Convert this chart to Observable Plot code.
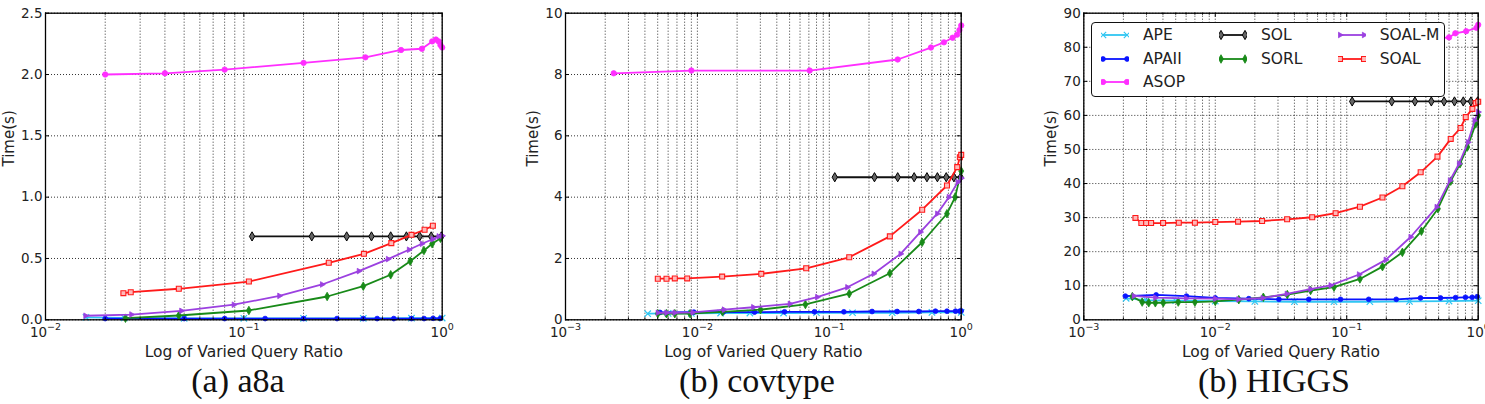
<!DOCTYPE html>
<html>
<head>
<meta charset="utf-8">
<script src="https://cdn.jsdelivr.net/npm/d3@7"></script>
<script src="https://cdn.jsdelivr.net/npm/@observablehq/plot@0.6"></script>
<style>
  body { margin: 0; background: #fff; width: 1485px; height: 404px; overflow: hidden; position: relative; font-family: "DejaVu Sans", sans-serif; }
  .panel { position: absolute; top: 0; width: 495px; }
  .caption { position: absolute; top: 364px; font-family: "Liberation Serif", "Times New Roman", serif; font-size: 34px; line-height: 1; color: #111; white-space: nowrap; transform: translateX(-50%); }
  .legend { position: absolute; background: #fff; border: 1px solid #111; border-radius: 4px; box-sizing: border-box; }
  .legend .item { position: absolute; display: flex; align-items: center; font-size: 15.5px; color: #222; }
  .legend svg { margin-right: 14px; }
</style>
</head>
<body>
<script>
// Series names, colours and the x-axis text shared by the three panels
const seriesNames = ["APE", "APAII", "ASOP", "SOL", "SORL", "SOAL-M", "SOAL"];
const seriesColors = ["#2fc6f2", "#0a14ff", "#ff2eff", "#111111", "#188a18", "#9b40e0", "#ff1a1a"];
const xLabel = "Log of Varied Query Ratio";
const yLabel = "Time(s)";
const captions = ["(a) a8a", "(b) covtype", "(b) HIGGS"];

// a8a: [query ratio, seconds]
const a8aAPE = [[0.016, 0.02], [0.025, 0.015], [0.05, 0.012], [0.1, 0.012], [0.2, 0.012], [0.4, 0.012], [0.7, 0.013], [1.0, 0.014]];
const a8aAPAII = [[0.02, 0.01], [0.05, 0.01], [0.08, 0.01], [0.128, 0.01], [0.2, 0.01], [0.295, 0.01], [0.4, 0.01], [0.47, 0.01], [0.57, 0.01], [0.7, 0.01], [0.81, 0.01], [0.9, 0.012], [0.98, 0.012]];
const a8aASOP = [[0.02, 2.0], [0.04, 2.01], [0.08, 2.04], [0.2, 2.095], [0.41, 2.14], [0.62, 2.2], [0.79, 2.21], [0.89, 2.27], [0.93, 2.285], [0.96, 2.27], [0.98, 2.24], [1.0, 2.22]];
const a8aSOL = [[0.11, 0.68], [0.22, 0.68], [0.33, 0.68], [0.44, 0.68], [0.55, 0.68], [0.66, 0.68], [0.77, 0.68], [0.88, 0.68], [0.99, 0.68]];
const a8aSORL = [[0.0253, 0.013], [0.047, 0.035], [0.106, 0.076], [0.263, 0.19], [0.4, 0.274], [0.55, 0.367], [0.69, 0.478], [0.809, 0.565], [0.89, 0.62], [0.98, 0.665]];
const a8aSOALM = [[0.0159, 0.033], [0.0271, 0.043], [0.0484, 0.073], [0.089, 0.123], [0.151, 0.195], [0.248, 0.288], [0.38, 0.397], [0.533, 0.495], [0.68, 0.571], [0.79, 0.62], [0.895, 0.657], [0.96, 0.68], [1.0, 0.685]];
const a8aSOAL = [[0.0247, 0.217], [0.0269, 0.225], [0.047, 0.253], [0.106, 0.312], [0.268, 0.465], [0.403, 0.538], [0.554, 0.625], [0.7, 0.693], [0.815, 0.734], [0.897, 0.767]];

// covtype
const covAPE = [[0.0042, 0.2], [0.006, 0.21], [0.009, 0.21], [0.015, 0.22], [0.025, 0.22], [0.045, 0.22], [0.08, 0.23], [0.15, 0.23], [0.3, 0.23], [0.6, 0.24], [1.0, 0.24]];
const covAPAII = [[0.0052, 0.24], [0.0094, 0.25], [0.0157, 0.25], [0.0271, 0.25], [0.0457, 0.26], [0.0772, 0.26], [0.129, 0.26], [0.211, 0.27], [0.327, 0.27], [0.477, 0.27], [0.638, 0.28], [0.78, 0.28], [0.906, 0.28], [0.977, 0.28], [1.0, 0.29]];
const covASOP = [[0.00232, 8.04], [0.009, 8.13], [0.071, 8.13], [0.33, 8.49], [0.59, 8.88], [0.74, 9.05], [0.86, 9.2], [0.93, 9.3], [0.97, 9.45], [1.0, 9.6]];
const covSOL = [[0.11, 4.65], [0.22, 4.65], [0.33, 4.65], [0.44, 4.65], [0.55, 4.65], [0.66, 4.65], [0.77, 4.65], [0.88, 4.65], [0.99, 4.65]];
const covSORL = [[0.00501, 0.2], [0.00583, 0.2], [0.00674, 0.2], [0.0088, 0.2], [0.0155, 0.26], [0.0301, 0.33], [0.0659, 0.5], [0.1416, 0.85], [0.2877, 1.52], [0.506, 2.53], [0.78, 3.46], [0.9, 4.0], [1.0, 4.85]];
const covSOALM = [[0.00501, 0.23], [0.00583, 0.23], [0.00674, 0.23], [0.0092, 0.24], [0.0159, 0.33], [0.0265, 0.41], [0.0502, 0.52], [0.081, 0.74], [0.137, 1.06], [0.217, 1.5], [0.347, 2.15], [0.49, 2.86], [0.658, 3.46], [0.806, 4.0], [0.942, 4.49], [1.0, 4.62]];
const covSOAL = [[0.00501, 1.34], [0.00583, 1.34], [0.00674, 1.35], [0.00837, 1.35], [0.0154, 1.41], [0.0305, 1.5], [0.0668, 1.68], [0.1416, 2.04], [0.2877, 2.72], [0.506, 3.59], [0.78, 4.38], [0.933, 4.98], [0.977, 5.3], [1.0, 5.38]];

// HIGGS
const higgsAPE = [[0.0021, 6.3], [0.003, 5.8], [0.005, 5.6], [0.01, 5.5], [0.02, 5.4], [0.04, 5.3], [0.08, 5.3], [0.15, 5.3], [0.3, 5.4], [0.6, 5.5], [1.0, 5.6]];
const higgsAPAII = [[0.00207, 6.95], [0.00355, 7.3], [0.00604, 6.95], [0.01, 6.4], [0.018, 6.2], [0.0305, 6.0], [0.0515, 6.0], [0.0897, 6.0], [0.147, 6.0], [0.238, 6.0], [0.364, 6.4], [0.517, 6.4], [0.673, 6.5], [0.8, 6.6], [0.9, 6.6], [0.984, 6.8]];
const higgsASOP = [[0.5, 82.6], [0.6, 82.9], [0.67, 84.1], [0.81, 84.7], [0.97, 85.7], [1.0, 86.6]];
const higgsSOL = [[0.11, 64.1], [0.22, 64.1], [0.33, 64.1], [0.44, 64.1], [0.55, 64.1], [0.66, 64.1], [0.77, 64.1], [0.88, 64.1], [0.99, 64.1]];
const higgsSORL = [[0.00234, 6.8], [0.00278, 5.2], [0.00312, 5.0], [0.0035, 5.0], [0.00402, 5.0], [0.00523, 5.2], [0.007, 5.2], [0.01, 5.4], [0.0151, 5.9], [0.0232, 6.6], [0.0353, 7.4], [0.0531, 8.6], [0.08, 9.6], [0.126, 12.0], [0.187, 15.6], [0.265, 19.8], [0.37, 26.0], [0.494, 32.6], [0.618, 40.7], [0.727, 45.8], [0.827, 50.7], [0.957, 57.5], [1.0, 60.0]];
const higgsSOALM = [[0.0024, 7.0], [0.0035, 6.5], [0.006, 6.3], [0.01, 6.2], [0.015, 6.0], [0.023, 6.4], [0.035, 7.6], [0.053, 9.0], [0.0754, 10.1], [0.124, 13.3], [0.198, 17.6], [0.306, 24.3], [0.483, 33.1], [0.61, 40.9], [0.715, 45.8], [0.836, 52.1], [0.94, 58.5], [1.0, 61.0]];
const higgsSOAL = [[0.00247, 29.9], [0.00274, 28.4], [0.00298, 28.4], [0.00325, 28.4], [0.00401, 28.4], [0.00528, 28.5], [0.007, 28.5], [0.01, 28.7], [0.0149, 28.8], [0.0227, 29.0], [0.0352, 29.5], [0.0546, 30.1], [0.0823, 31.3], [0.126, 33.2], [0.187, 35.9], [0.265, 39.2], [0.365, 43.3], [0.49, 47.9], [0.618, 53.1], [0.734, 56.3], [0.804, 59.5], [0.903, 61.9], [0.957, 63.6], [1.0, 64.0]];

// Tick values
const a8aYTicks = [0, 0.5, 1.0, 1.5, 2.0, 2.5];
const covYTicks = [0, 2, 4, 6, 8, 10];
const higgsYTicks = [0, 10, 20, 30, 40, 50, 60, 70, 80, 90];

// Right-pointing triangle marker
const triangleRight = {
  draw(context, size) {
    const r = Math.sqrt(size / Math.PI) * 1.25;
    context.moveTo(r, 0);
    context.lineTo(-r * 0.5, -r * 0.866);
    context.lineTo(-r * 0.5, r * 0.866);
    context.closePath();
  }
};

// Marker style for each series (same order as seriesNames)
const markerStyles = [
  {symbol: "times", r: 3, fill: "none", stroke: seriesColors[0], strokeWidth: 1.2},
  {symbol: "circle", r: 2.4, fill: seriesColors[1], stroke: seriesColors[1], strokeWidth: 0.8},
  {symbol: "circle", r: 2.7, fill: seriesColors[2], stroke: seriesColors[2], strokeWidth: 0.8},
  {symbol: "diamond", r: 2.8, fill: "#666", stroke: "#000", strokeWidth: 1},
  {symbol: "diamond", r: 2.6, fill: seriesColors[4], stroke: seriesColors[4], strokeWidth: 0.8},
  {symbol: triangleRight, r: 2.6, fill: seriesColors[5], stroke: seriesColors[5], strokeWidth: 0.8},
  {symbol: "square", r: 2.8, fill: "#ffb8b8", stroke: seriesColors[6], strokeWidth: 1.1}
];

const panels = [
  {left: 0, marginLeft: 45, xDomain: [1e-2, 1], yDomain: [0, 2.5], yTicks: a8aYTicks, yFormat: d3.format(".1f"), yLabelDx: -36, captionX: 238,
   series: [a8aAPE, a8aAPAII, a8aASOP, a8aSOL, a8aSORL, a8aSOALM, a8aSOAL]},
  {left: 495, marginLeft: 70, xDomain: [1e-3, 1], yDomain: [0, 10], yTicks: covYTicks, yFormat: d3.format("d"), yLabelDx: -32, captionX: 757,
   series: [covAPE, covAPAII, covASOP, covSOL, covSORL, covSOALM, covSOAL]},
  {left: 990, marginLeft: 93.3, xDomain: [1e-3, 1], yDomain: [0, 90], yTicks: higgsYTicks, yFormat: d3.format("d"), yLabelDx: -33, captionX: 1274,
   series: [higgsAPE, higgsAPAII, higgsASOP, higgsSOL, higgsSORL, higgsSOALM, higgsSOAL]}
];

const W = 495, H = 362, TOP = 12.7, BOTTOM = 319.3, RIGHT_EDGE = [441.7, 960.7 - 495, 1477.7 - 990];

panels.forEach((p, i) => {
  const marginRight = W - RIGHT_EDGE[i];
  const innerW = RIGHT_EDGE[i] - p.marginLeft;
  const innerH = BOTTOM - TOP;
  const e0 = Math.round(Math.log10(p.xDomain[0]));
  const majors = d3.range(e0, 1).map(e => Math.pow(10, e));
  const minors = d3.range(e0, 0).flatMap(e => d3.range(2, 10).map(k => k * Math.pow(10, e)));
  const expLabel = d => "10^" + String(Math.round(Math.log10(d))).replace("-", "\u2212");

  const seriesMarks = p.series.flatMap((data, k) => [
    Plot.line(data, {x: d => d[0], y: d => d[1], stroke: seriesColors[k], strokeWidth: 1.8}),
    Plot.dot(data, {x: d => d[0], y: d => d[1], ...markerStyles[k]})
  ]);

  const grid = {stroke: "#000", strokeOpacity: 0.8, strokeWidth: 1, strokeDasharray: "1,2"};
  const chart = Plot.plot({
    width: W, height: H,
    marginLeft: p.marginLeft, marginRight, marginTop: TOP, marginBottom: H - BOTTOM,
    x: {type: "log", domain: p.xDomain},
    y: {domain: p.yDomain},
    style: {fontFamily: "DejaVu Sans, sans-serif", fontSize: "13.5px", color: "#222", background: "transparent", overflow: "visible"},
    marks: [
      Plot.gridX([...minors, ...majors], grid),
      Plot.gridY(p.yTicks, grid),
      ...seriesMarks,
      // inward tick marks on all four sides
      Plot.tickX(majors, {x: d => d, insetTop: innerH - 4, stroke: "#000"}),
      Plot.tickX(majors, {x: d => d, insetBottom: innerH - 4, stroke: "#000"}),
      Plot.tickX(minors, {x: d => d, insetTop: innerH - 2, stroke: "#000"}),
      Plot.tickX(minors, {x: d => d, insetBottom: innerH - 2, stroke: "#000"}),
      Plot.tickY(p.yTicks, {y: d => d, insetRight: innerW - 4, stroke: "#000"}),
      Plot.tickY(p.yTicks, {y: d => d, insetLeft: innerW - 4, stroke: "#000"}),
      Plot.frame({stroke: "#000", strokeWidth: 1.3}),
      Plot.axisX(majors, {tickSize: 0, tickPadding: 8, tickFormat: expLabel, label: null}),
      Plot.axisY(p.yTicks, {tickSize: 0, tickPadding: 3, tickFormat: p.yFormat, label: null}),
      Plot.text([xLabel], {frameAnchor: "bottom", dy: 37, lineAnchor: "bottom", fontSize: 15.5, fill: "#222"}),
      Plot.text([yLabel], {frameAnchor: "left", dx: p.yLabelDx, rotate: -90, fontSize: 15, fill: "#222"})
    ]
  });

  // Typeset "10^e" labels as base plus raised exponent
  chart.querySelectorAll("text").forEach(t => {
    const s = t.textContent;
    if (!s.startsWith("10^")) return;
    const exp = s.slice(3);
    t.textContent = "";
    const base = document.createElementNS("http://www.w3.org/2000/svg", "tspan");
    base.textContent = "10";
    const sup = document.createElementNS("http://www.w3.org/2000/svg", "tspan");
    sup.textContent = exp;
    sup.setAttribute("dy", "-7");
    sup.setAttribute("font-size", "9.5px");
    t.appendChild(base);
    t.appendChild(sup);
  });

  const div = document.createElement("div");
  div.className = "panel";
  div.style.left = p.left + "px";
  div.appendChild(chart);
  document.body.appendChild(div);

  const cap = document.createElement("div");
  cap.className = "caption";
  cap.style.left = p.captionX + "px";
  cap.textContent = captions[i];
  document.body.appendChild(cap);
});

// Legend box drawn inside the HIGGS panel
const legend = document.createElement("div");
legend.className = "legend";
Object.assign(legend.style, {left: "1091px", top: "21.7px", width: "354px", height: "75px"});
const columns = [[0, 1, 2], [3, 4], [5, 6]];
const colX = [9, 127, 245.7];
const rowY = [12.6, 36, 59.3];
columns.forEach((col, c) => col.forEach((k, r) => {
  const item = document.createElement("div");
  item.className = "item";
  item.style.left = colX[c] + "px";
  item.style.top = (rowY[r] - 9) + "px";
  item.style.height = "18px";
  const svg = d3.create("svg").attr("width", 28).attr("height", 12);
  svg.append("line").attr("x1", 2).attr("x2", 26).attr("y1", 6).attr("y2", 6)
    .attr("stroke", seriesColors[k]).attr("stroke-width", 1.8);
  const ms = markerStyles[k];
  const symType = typeof ms.symbol === "string"
    ? {times: d3.symbolTimes, circle: d3.symbolCircle, diamond: d3.symbolDiamond, square: d3.symbolSquare}[ms.symbol]
    : ms.symbol;
  const path = d3.symbol(symType, Math.PI * ms.r * ms.r)();
  [2, 26].forEach(x => svg.append("path").attr("d", path).attr("transform", `translate(${x},6)`)
    .attr("fill", ms.fill).attr("stroke", ms.stroke).attr("stroke-width", ms.strokeWidth));
  item.appendChild(svg.node());
  const label = document.createElement("span");
  label.textContent = seriesNames[k];
  item.appendChild(label);
  legend.appendChild(item);
}));
document.body.appendChild(legend);
</script>
</body>
</html>
